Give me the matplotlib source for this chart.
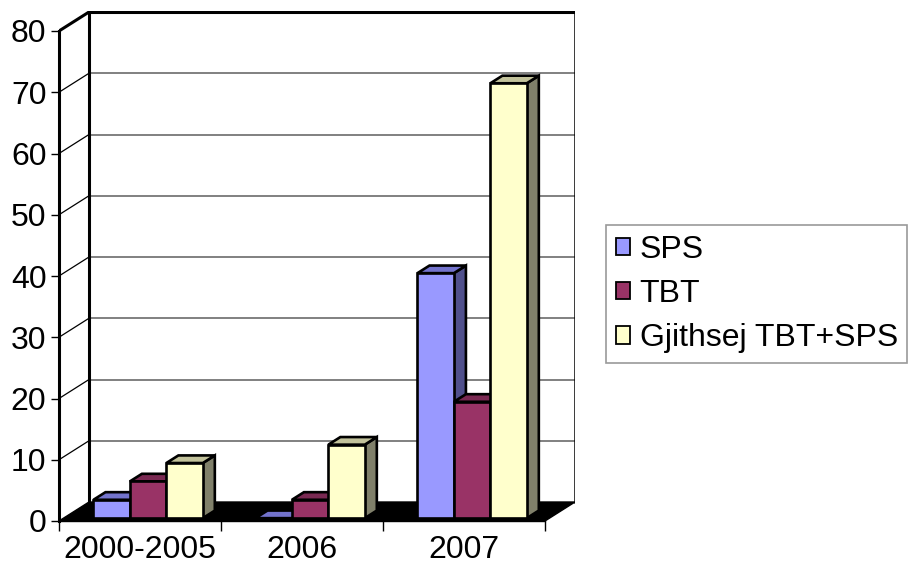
import matplotlib
matplotlib.use("Agg")
import matplotlib.pyplot as plt
from matplotlib.patches import Polygon, Patch

# --- data ---
categories = ["2000-2005", "2006", "2007"]
series_names = ["SPS", "TBT", "Gjithsej TBT+SPS"]
sps = [3, 0, 40]
tbt = [6, 3, 19]
total = [9, 12, 71]
y_ticks = [0, 10, 20, 30, 40, 50, 60, 70, 80]

# face, top, side colours for each series (excel style)
front_cols = ["#9999FF", "#993366", "#FFFFCC"]
top_cols = ["#7373CC", "#7A2952", "#C2C29B"]
side_cols = ["#50508C", "#5C1F3D", "#80806A"]

plt.rcParams['font.family'] = ['Liberation Sans', 'DejaVu Sans']
fs = 23

fig = plt.figure(figsize=(9.14, 5.66), dpi=100)

# pixel geometry of the plot box
px_x, px_y = 162.0, 6.125          # pixels per category / per unit
left, right, bottom, top = 59, 575, 521, 11
ax = fig.add_axes([left / 914, (566 - bottom) / 566,
                   (right - left) / 914, (bottom - top) / 566])
ax.set_xlim(0, (right - left) / px_x)
ax.set_ylim(0, (bottom - top) / px_y)

# oblique depth offset of the back wall
ddx = 30 / px_x
ddy = 19 / px_y
ymax = 80

# --- walls and gridlines ---
for v in y_ticks[1:-1]:
    ax.plot([ddx, 3 + ddx], [v + ddy, v + ddy], color="#808080", lw=1.4, zorder=1)
    ax.plot([0, ddx], [v, v + ddy], color="black", lw=0.9, zorder=1)
ax.plot([ddx, ddx], [ddy, ymax + ddy], color="black", lw=2.2, zorder=2)
ax.plot([ddx, 3 + ddx], [ymax + ddy, ymax + ddy], color="black", lw=2.2, zorder=2)
ax.plot([3 + ddx, 3 + ddx], [ddy, ymax + ddy], color="black", lw=1.8, zorder=2)
ax.plot([0, ddx], [ymax, ymax + ddy], color="black", lw=2.2, zorder=2)

# floor
ax.add_patch(Polygon([(0, 0), (3, 0), (3 + ddx, ddy), (ddx, ddy)],
                     closed=True, facecolor="black", edgecolor="black", zorder=3))

# --- 3d bars ---
bar_w = 0.225
f = 0.15     # front face depth
bd = 0.4     # bar depth
values = [sps, tbt, total]
z = 4
for i in range(len(categories)):
    for j in range(3):
        h = values[j][i]
        x0 = i + 0.185 + j * bar_w + f * ddx
        y0 = f * ddy
        bx, by = bd * ddx, bd * ddy
        side = [(x0 + bar_w, y0), (x0 + bar_w, y0 + h),
                (x0 + bar_w + bx, y0 + h + by), (x0 + bar_w + bx, y0 + by)]
        topf = [(x0, y0 + h), (x0 + bar_w, y0 + h),
                (x0 + bar_w + bx, y0 + h + by), (x0 + bx, y0 + h + by)]
        front = [(x0, y0), (x0 + bar_w, y0), (x0 + bar_w, y0 + h), (x0, y0 + h)]
        ax.add_patch(Polygon(side, closed=True, facecolor=side_cols[j],
                             edgecolor="black", lw=1.9, zorder=z))
        ax.add_patch(Polygon(topf, closed=True, facecolor=top_cols[j],
                             edgecolor="black", lw=1.9, zorder=z))
        ax.add_patch(Polygon(front, closed=True, facecolor=front_cols[j],
                             edgecolor="black", lw=1.9, zorder=z + 0.5))
        z += 1

# --- axes styling ---
for s in ["top", "right"]:
    ax.spines[s].set_visible(False)
ax.spines["left"].set_bounds(0, ymax)
ax.spines["left"].set_linewidth(2.2)
ax.spines["left"].set_zorder(10)
ax.spines["bottom"].set_bounds(0, 3)
ax.spines["bottom"].set_linewidth(1)

ax.set_yticks(y_ticks)
ax.set_yticklabels([str(v) for v in y_ticks], fontsize=fs)
ax.tick_params(axis="y", length=6, width=1, pad=3)

ax.set_xticks([0, 1, 2, 3])
ax.set_xticklabels([])
ax.set_xticks([0.5, 1.5, 2.5], minor=True)
ax.set_xticklabels(categories, minor=True, fontsize=fs)
ax.tick_params(axis="x", which="major", length=7, width=1)
ax.tick_params(axis="x", which="minor", length=0, pad=10)

# --- legend ---
handles = [Patch(facecolor=front_cols[j], edgecolor="black", lw=1.3)
           for j in range(3)]
leg = fig.legend(handles, series_names, loc="upper left",
                 bbox_to_anchor=(606 / 914, 1 - 225 / 566), borderaxespad=0,
                 fontsize=fs, frameon=True, fancybox=False,
                 handlelength=0.45, handleheight=0.45, handletextpad=0.3,
                 labelspacing=0.45, borderpad=0.3)
leg.get_frame().set_edgecolor("#808080")
leg.get_frame().set_linewidth(1.2)

fig.savefig("out.png", dpi=100)
